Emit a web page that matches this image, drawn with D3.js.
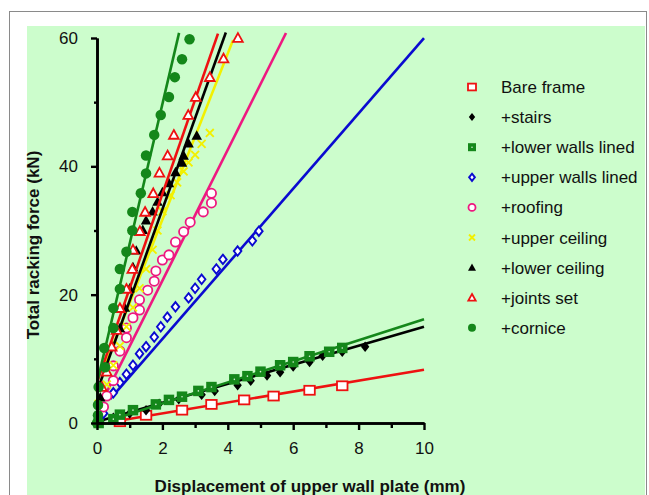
<!DOCTYPE html>
<html><head><meta charset="utf-8">
<script src="https://cdn.jsdelivr.net/npm/d3@7"></script>
<style>
body{margin:0;background:#fff;}
svg{display:block;font-family:"Liberation Sans",Arial,sans-serif;}
</style></head>
<body><svg id="c" width="649" height="495"></svg>
<script>
// ---- data ----
const seriesNames = ["Bare frame","+stairs","+lower walls lined","+upper walls lined","+roofing","+upper ceiling","+lower ceiling","+joints set","+cornice"];
const bareFrame = [[0.7,0.2],[1.5,1.2],[2.6,2.0],[3.5,2.9],[4.5,3.6],[5.4,4.2],[6.5,5.1],[7.5,5.8]];
const stairs = [[0.1,0.2],[0.5,0.8],[1.0,1.5],[1.5,2.0],[1.9,3.0],[2.5,3.7],[3.2,4.4],[3.6,5.0],[4.3,5.9],[4.7,6.6],[5.2,7.4],[5.6,7.9],[6.0,8.8],[6.5,9.5],[6.9,10.5],[7.5,11.1],[8.2,11.9]];
const lowerWalls = [[0.05,0],[0.5,0.6],[0.7,1.3],[1.1,2.0],[1.8,2.9],[2.2,3.6],[2.6,4.1],[3.1,5.0],[3.5,5.6],[4.2,6.8],[4.6,7.3],[5.0,8.0],[5.6,9.0],[6.0,9.5],[6.5,10.4],[7.1,11.1],[7.5,11.7]];
const upperWalls = [[0.2,1.5],[0.5,4.7],[0.7,6.3],[0.9,7.6],[1.1,9.0],[1.3,10.8],[1.5,11.9],[1.75,13.4],[1.95,15.0],[2.15,16.5],[2.4,18.1],[2.8,19.5],[3.0,21.0],[3.2,22.4],[3.65,24.0],[3.85,25.5],[4.3,26.8],[4.75,28.4],[4.95,29.9]];
const roofing = [[0.2,2.5],[0.3,4.2],[0.5,6.6],[0.5,8.9],[0.7,11.2],[0.9,13.3],[0.9,14.8],[1.1,16.4],[1.3,17.6],[1.3,19.2],[1.55,20.7],[1.75,22.1],[1.8,23.7],[2.0,25.4],[2.2,26.2],[2.4,28.2],[2.65,29.8],[2.85,31.3],[3.25,32.9],[3.5,34.3],[3.5,35.8]];
const upperCeiling = [[0.05,3],[0.3,6],[0.5,9],[0.7,12],[0.9,15],[1.1,18],[1.3,21],[1.5,24],[1.7,27],[1.85,30],[2.0,33],[2.25,35.5],[2.45,37.5],[2.65,39.2],[2.8,40.6],[3.0,41.8],[3.2,43.5],[3.45,45.2]];
const lowerCeiling = [[0.1,4],[0.3,8],[0.45,11.9],[0.7,14.8],[0.85,18],[1.0,21],[1.1,24.3],[1.2,26.9],[1.4,30.1],[1.5,31.6],[1.7,33.0],[1.85,34.5],[2.0,36.0],[2.2,37.4],[2.4,39.1],[2.6,40.6],[2.65,41.7],[2.8,43.6],[3.05,44.8]];
const jointsSet = [[0.15,5.6],[0.3,8],[0.45,11.9],[0.6,14.5],[0.7,17.9],[0.9,20.9],[1.08,24.0],[1.1,27.0],[1.31,29.9],[1.47,32.9],[1.72,35.8],[1.91,39.0],[2.16,41.7],[2.35,44.9],[2.79,48.0],[3.02,50.8],[3.45,53.9],[3.87,56.8],[4.31,60.0]];
const cornice = [[0,0],[0.03,1.2],[0.03,2.8],[0.05,5.6],[0.25,8.7],[0.22,11.7],[0.5,14.8],[0.5,17.9],[0.7,20.9],[0.7,24.0],[0.9,26.7],[1.08,30.0],[1.08,32.9],[1.34,35.8],[1.5,38.9],[1.5,41.7],[1.75,44.9],[1.95,48.0],[2.2,50.8],[2.38,53.9],[2.6,56.7],[2.83,59.8]];
// fitted straight lines: slope, intercept, x start, x end
const fitSlope     = [0.85, 1.48, 1.64, 5.86, 10.21, 12.95, 14.2, 14.7, 21.75];
const fitIntercept = [-0.2, 0.2, -0.22, 1.37, 1.76, 5.8, 4.9, 6.3, 6.2];
const fitXStart    = [0.7, 0.05, 0.4, 0.4, 0.18, 0.2, 0.05, 0.0, 0.0];
const fitXEnd      = [10, 10, 10, 10, 5.78, 4.16, 3.94, 3.70, 2.51];
const xTicks = [0,2,4,6,8,10];
const xMinorTicks = [1,3,5,7,9];
const yTicks = [0,20,40,60];
const yMinorTicks = [10,30,50];
const xTitle = "Displacement of upper wall plate (mm)";
const yTitle = "Total racking force (kN)";

const seriesData = [bareFrame,stairs,lowerWalls,upperWalls,roofing,upperCeiling,lowerCeiling,jointsSet,cornice];
const colors = ["#ee1111","#000000","#14871a","#0a0ad0","#ee1880","#f2f000","#000000","#ee1111","#14871a"];
const markers = ["sqOpen","diamond","sqFilled","diamondOpen","circleOpen","cross","triFilled","triOpen","circleFilled"];

const svg = d3.select("#c");
// frame
svg.append("rect").attr("x",9.5).attr("y",11.5).attr("width",637).attr("height",500)
  .attr("fill","#fff").attr("stroke","#8a8a8a").attr("stroke-width",1);
svg.append("rect").attr("x",27).attr("y",26).attr("width",618).attr("height",480).attr("fill","#ccfdcc");

const x = d3.scaleLinear().domain([0,10]).range([97,424]);
const y = d3.scaleLinear().domain([0,60]).range([423,38]);

function drawMarker(g, type, cx, cy, col, s){
  const h = s/2;
  if(type==="sqOpen"){
    g.append("rect").attr("x",cx-h).attr("y",cy-h*0.85).attr("width",s).attr("height",s*0.85)
      .attr("fill","#fff").attr("stroke",col).attr("stroke-width",1.8);
  } else if(type==="sqFilled"){
    g.append("rect").attr("x",cx-h).attr("y",cy-h).attr("width",s).attr("height",s).attr("fill",col);
    g.append("circle").attr("cx",cx).attr("cy",cy).attr("r",0.8).attr("fill","#d8f0d8");
  } else if(type==="diamond"){
    g.append("path").attr("d",`M${cx},${cy-h}L${cx+h*0.8},${cy}L${cx},${cy+h}L${cx-h*0.8},${cy}Z`).attr("fill",col);
  } else if(type==="diamondOpen"){
    const k=h*0.9;
    g.append("path").attr("d",`M${cx},${cy-k}L${cx+k*0.8},${cy}L${cx},${cy+k}L${cx-k*0.8},${cy}Z`)
      .attr("fill","#fff").attr("stroke",col).attr("stroke-width",1.9);
  } else if(type==="circleOpen"){
    g.append("circle").attr("cx",cx).attr("cy",cy).attr("r",h*0.88).attr("fill","#fff").attr("stroke",col).attr("stroke-width",1.8);
  } else if(type==="circleFilled"){
    g.append("circle").attr("cx",cx).attr("cy",cy).attr("r",h).attr("fill",col);
  } else if(type==="cross"){
    const k=h*0.75;
    g.append("path").attr("d",`M${cx-k},${cy-k}L${cx+k},${cy+k}M${cx-k},${cy+k}L${cx+k},${cy-k}`)
      .attr("stroke",col).attr("stroke-width",1.9).attr("fill","none");
  } else if(type==="triFilled"){
    g.append("path").attr("d",`M${cx},${cy-h}L${cx+h},${cy+h*0.8}L${cx-h},${cy+h*0.8}Z`).attr("fill",col);
  } else if(type==="triOpen"){
    const k=h*0.92;
    g.append("path").attr("d",`M${cx},${cy-k}L${cx+k},${cy+k*0.8}L${cx-k},${cy+k*0.8}Z`)
      .attr("fill","#fff").attr("stroke",col).attr("stroke-width",1.8);
  }
}

// series
const plot = svg.append("g");
seriesData.forEach((data,i)=>{
  const g = plot.append("g");
  const ln = d3.line().x(d=>x(d)).y(d=>y(fitIntercept[i]+fitSlope[i]*d));
  g.append("path").datum([fitXStart[i],fitXEnd[i]]).attr("d",ln)
    .attr("stroke",colors[i]).attr("stroke-width",2.6).attr("fill","none");
  data.forEach(d=>drawMarker(g, markers[i], x(d[0]), y(d[1]), colors[i], 10.5));
});

// axes
const axStyle = (g)=>{
  g.selectAll(".domain").attr("stroke","#000").attr("stroke-width",2.6);
  g.selectAll(".tick line").attr("stroke","#000").attr("stroke-width",2.4);
  g.selectAll(".tick text").attr("font-size",17).attr("fill","#111").attr("font-family","Liberation Sans, Arial, sans-serif");
};
const gy = svg.append("g").attr("transform","translate(97,0)")
  .call(d3.axisLeft(y).tickValues(yTicks).tickSize(6).tickSizeOuter(0).tickPadding(13).tickFormat(d3.format("d")));
axStyle(gy);
const gyMinor = svg.append("g").attr("transform","translate(97,0)")
  .call(d3.axisLeft(y).tickValues(yMinorTicks).tickSize(3).tickSizeOuter(0).tickFormat(""));
axStyle(gyMinor);
const gx = svg.append("g").attr("transform","translate(0,423)")
  .call(d3.axisBottom(x).tickValues(xTicks).tickSize(7).tickSizeOuter(0).tickPadding(12).tickFormat(d3.format("d")));
axStyle(gx);
const gxMinor = svg.append("g").attr("transform","translate(0,423)")
  .call(d3.axisBottom(x).tickValues(xMinorTicks).tickSize(5).tickSizeOuter(0).tickFormat(""));
axStyle(gxMinor);

// axis titles
svg.append("text").attr("x",310).attr("y",492).attr("text-anchor","middle")
  .attr("font-size",17).attr("font-weight","bold").attr("fill","#111").text(xTitle);
svg.append("text").attr("transform","translate(39,245) rotate(-90)").attr("text-anchor","middle")
  .attr("font-size",17).attr("font-weight","bold").attr("fill","#111").text(yTitle);

// legend
const leg = svg.append("g");
seriesNames.forEach((name,i)=>{
  const cy = 87 + i*30.1;
  drawMarker(leg, markers[i], 472, cy, colors[i], 8);
  leg.append("text").attr("x",501).attr("y",cy+6).attr("font-size",17).attr("fill","#111").text(name);
});
</script></body></html>
